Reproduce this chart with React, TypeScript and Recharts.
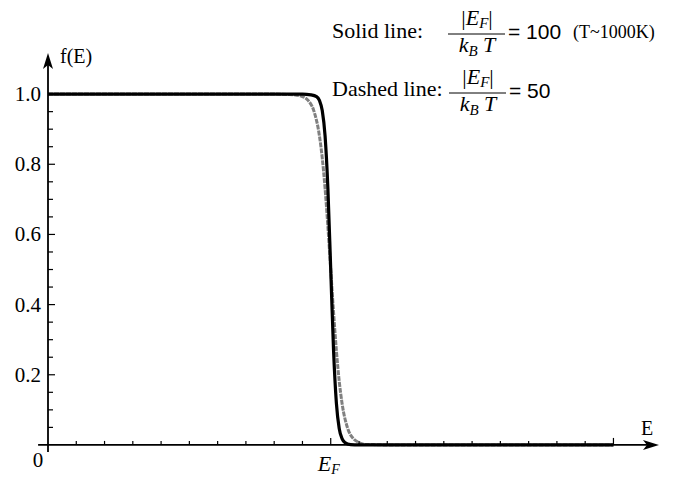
import { LineChart, Line, XAxis, YAxis, ReferenceLine, ReferenceDot } from 'recharts';

// Fermi–Dirac occupation f(E); energy in units of E_F
const solidE = [0, 0.5, 0.9, 0.93, 0.95, 0.96, 0.97, 0.98, 0.99, 1.0, 1.01, 1.02, 1.03, 1.04, 1.05, 1.07, 1.1, 1.5, 2.0];
const solidF = [1, 1, 1, 0.998, 0.993, 0.982, 0.953, 0.881, 0.731, 0.5, 0.269, 0.119, 0.047, 0.018, 0.007, 0.001, 0, 0, 0];

const dashedE = [0, 0.5, 0.8, 0.85, 0.88, 0.9, 0.92, 0.94, 0.96, 0.97, 0.98, 0.99, 1.0, 1.01, 1.02, 1.03, 1.04, 1.06, 1.08, 1.1, 1.12, 1.15, 1.2, 1.5, 2.0];
const dashedF = [1, 1, 1, 0.999, 0.997, 0.993, 0.982, 0.953, 0.881, 0.818, 0.731, 0.622, 0.5, 0.378, 0.269, 0.182, 0.119, 0.047, 0.018, 0.007, 0.002, 0.001, 0, 0, 0];

const yMajor = [0.2, 0.4, 0.6, 0.8, 1.0];
const yLabels = ['0.2', '0.4', '0.6', '0.8', '1.0'];
const yMinor = [0.05, 0.1, 0.15, 0.25, 0.3, 0.35, 0.45, 0.5, 0.55, 0.65, 0.7, 0.75, 0.85, 0.9, 0.95];
const xMajor = [1, 2];
const xMinor = [0.1, 0.2, 0.3, 0.4, 0.5, 0.6, 0.7, 0.8, 0.9, 1.1, 1.2, 1.3, 1.4, 1.5, 1.6, 1.7, 1.8, 1.9];

const solidData = solidE.map((e, i) => ({ e, f: solidF[i] }));
const dashedData = dashedE.map((e, i) => ({ e, f: dashedF[i] }));

const SERIF = '"Liberation Serif", "Times New Roman", serif';
const SANS = '"Liberation Sans", Arial, sans-serif';

const W = 678;
const H = 477;

type DotProps = { cx?: number; cy?: number };

const yTick = (len: number) => (p: DotProps) => (
  <line x1={p.cx} y1={p.cy} x2={(p.cx ?? 0) + len} y2={p.cy} stroke="#000" strokeWidth={1.2} />
);

const xTick = (len: number) => (p: DotProps) => (
  <line x1={p.cx} y1={p.cy} x2={p.cx} y2={(p.cy ?? 0) - len} stroke="#000" strokeWidth={1.2} />
);

const yLabel = (text: string) => (p: DotProps) => (
  <text x={(p.cx ?? 0) - 7} y={(p.cy ?? 0) + 7} textAnchor="end" fontFamily={SERIF} fontSize={21} fill="#000">
    {text}
  </text>
);

const arrowRight = (p: DotProps) => {
  const x = p.cx ?? 0;
  const y = p.cy ?? 0;
  return <path d={`M${x},${y} L${x - 16},${y - 5} L${x - 12},${y} L${x - 16},${y + 5} Z`} fill="#000" />;
};

const arrowUp = (p: DotProps) => {
  const x = p.cx ?? 0;
  const y = p.cy ?? 0;
  return <path d={`M${x},${y} L${x - 5},${y + 16} L${x},${y + 12} L${x + 5},${y + 16} Z`} fill="#000" />;
};

const originLabel = (p: DotProps) => (
  <text x={(p.cx ?? 0) - 10} y={(p.cy ?? 0) + 22} textAnchor="middle" fontFamily={SERIF} fontSize={21} fill="#000">
    0
  </text>
);

const fermiLabel = (p: DotProps) => (
  <text x={(p.cx ?? 0) - 13} y={(p.cy ?? 0) + 26} fontFamily={SERIF} fontSize={22} fontStyle="italic" fill="#000">
    E
    <tspan fontSize={14} dy={3}>F</tspan>
  </text>
);

const energyLabel = (p: DotProps) => (
  <text x={(p.cx ?? 0) - 18} y={(p.cy ?? 0) - 10} fontFamily={SERIF} fontSize={20} fill="#000">
    E
  </text>
);

const fLabel = (p: DotProps) => (
  <text x={(p.cx ?? 0) + 12} y={(p.cy ?? 0) + 10} fontFamily={SERIF} fontSize={20} fill="#000">
    f(E)
  </text>
);

function Ratio({ x, y, value, note }: { x: number; y: number; value: string; note?: string }) {
  // |E_F| / (k_B T) = value
  return (
    <g fill="#000">
      <text x={x} y={y - 13} textAnchor="middle" fontFamily={SERIF} fontSize={22}>
        |<tspan fontStyle="italic">E</tspan>
        <tspan fontStyle="italic" fontSize={15} dy={3}>F</tspan>
        <tspan dy={-3}>|</tspan>
      </text>
      <line x1={x - 29} y1={y - 4} x2={x + 28} y2={y - 4} stroke="#000" strokeWidth={1} />
      <text x={x} y={y + 14} textAnchor="middle" fontFamily={SERIF} fontSize={22} fontStyle="italic">
        k<tspan fontSize={15} dy={4}>B</tspan>
        <tspan dy={-4}> T</tspan>
      </text>
      <text x={x + 31} y={y + 1} fontFamily={SANS} fontSize={21}>
        = {value}
      </text>
      {note && (
        <text x={x + 96} y={y} fontFamily={SERIF} fontSize={18}>
          {note}
        </text>
      )}
    </g>
  );
}

export default function App() {
  return (
    <div style={{ position: 'absolute', left: 0, top: 0, width: W, height: H, background: '#fff' }}>
      <LineChart width={W} height={H} margin={{ top: 52, right: 8, bottom: 4, left: 48 }}>
        <XAxis type="number" dataKey="e" domain={[0, 2.2]} hide allowDataOverflow />
        <YAxis type="number" dataKey="f" domain={[-0.08, 1.12]} hide allowDataOverflow />

        <Line
          data={dashedData}
          dataKey="f"
          type="monotone"
          stroke="#808080"
          strokeWidth={3}
          strokeDasharray="5 1"
          dot={false}
          isAnimationActive={false}
        />
        <Line
          data={solidData}
          dataKey="f"
          type="monotone"
          stroke="#000"
          strokeWidth={3.2}
          dot={false}
          isAnimationActive={false}
        />

        <ReferenceLine
          segment={[{ x: -0.035, y: 0 }, { x: 2.14, y: 0 }]}
          stroke="#000"
          strokeWidth={1.8}
          ifOverflow="visible"
        />
        <ReferenceLine
          segment={[{ x: 0, y: -0.02 }, { x: 0, y: 1.09 }]}
          stroke="#000"
          strokeWidth={1.8}
          ifOverflow="visible"
        />
        <ReferenceDot x={2.161} y={0} ifOverflow="visible" shape={arrowRight} />
        <ReferenceDot x={0} y={1.117} ifOverflow="visible" shape={arrowUp} />

        {yMinor.map((v) => (
          <ReferenceDot key={`ym${v}`} x={0} y={v} ifOverflow="visible" shape={yTick(5)} />
        ))}
        {yMajor.map((v) => (
          <ReferenceDot key={`yM${v}`} x={0} y={v} ifOverflow="visible" shape={yTick(7)} />
        ))}
        {yMajor.map((v, i) => (
          <ReferenceDot key={`yl${v}`} x={0} y={v} ifOverflow="visible" shape={yLabel(yLabels[i])} />
        ))}
        {xMinor.map((v) => (
          <ReferenceDot key={`xm${v}`} x={v} y={0} ifOverflow="visible" shape={xTick(4)} />
        ))}
        {xMajor.map((v) => (
          <ReferenceDot key={`xM${v}`} x={v} y={0} ifOverflow="visible" shape={xTick(7)} />
        ))}

        <ReferenceDot x={0} y={0} ifOverflow="visible" shape={originLabel} />
        <ReferenceDot x={1} y={0} ifOverflow="visible" shape={fermiLabel} />
        <ReferenceDot x={2.161} y={0} ifOverflow="visible" shape={energyLabel} />
        <ReferenceDot x={0} y={1.117} ifOverflow="visible" shape={fLabel} />
      </LineChart>

      <svg width={W} height={H} style={{ position: 'absolute', left: 0, top: 0, pointerEvents: 'none' }}>
        <text x={332} y={38} fontFamily={SERIF} fontSize={22} fill="#000">
          Solid line:
        </text>
        <Ratio x={477} y={38} value="100" note="(T~1000K)" />
        <text x={332} y={96} fontFamily={SERIF} fontSize={22} fill="#000">
          Dashed line:
        </text>
        <Ratio x={478} y={97} value="50" />
      </svg>
    </div>
  );
}
